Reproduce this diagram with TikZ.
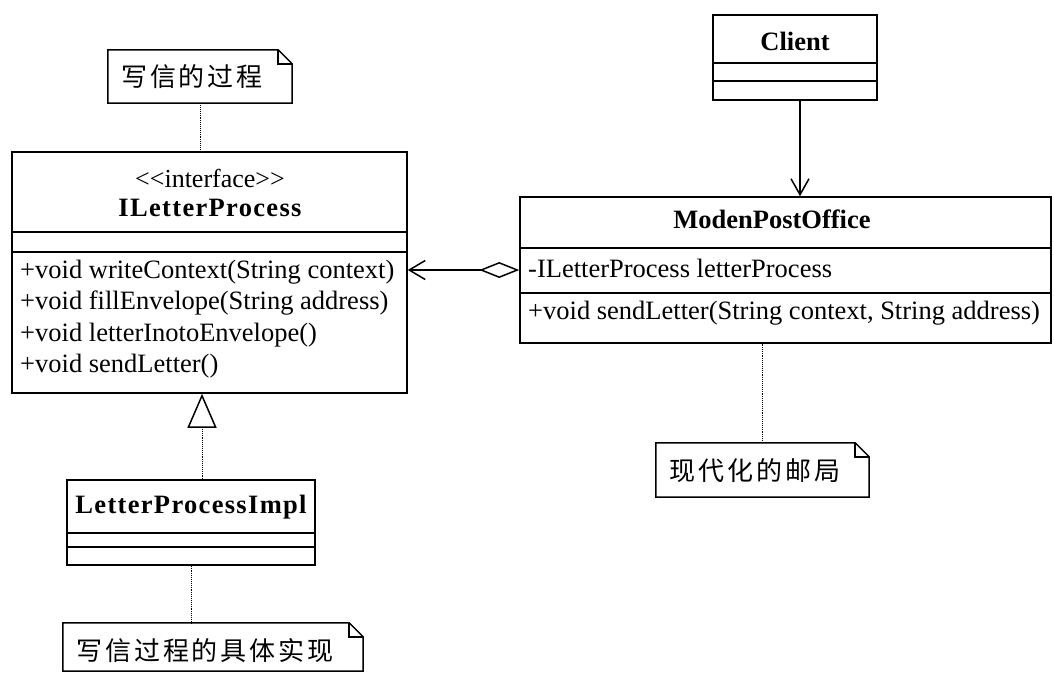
\documentclass[tikz,border=0pt]{standalone}
\usepackage{fontspec}
\setmainfont{Liberation Serif}
\newfontfamily\cjk[LetterSpace=11]{Noto Sans CJK SC}
\newfontfamily\spacedbf[LetterSpace=5]{Liberation Serif Bold}
\usetikzlibrary{fit,arrows.meta}
\tikzset{
  boxline/.style={line width=1.5pt, line join=miter},
  umlbox/.style={boxline, draw, inner sep=0pt},
  notearea/.style={inner sep=0pt},
  mtext/.style={font=\fontsize{26.5}{30}\selectfont, inner sep=0pt, anchor=west},
  ttext/.style={font=\fontsize{26.5}{30}\selectfont\bfseries, inner sep=0pt},
  stext/.style={font=\fontsize{26.5}{30}\selectfont\spacedbf, inner sep=0pt},
  ctext/.style={font=\fontsize{26}{30}\selectfont\cjk, inner sep=0pt},
  noteline/.style={line width=0.9pt, densely dotted},
  openhead/.style={-{Straight Barb[length=16pt,width=18pt,line width=1.5pt]}},
}
\newcommand\notefold[1]{%
  \draw[boxline] (#1.north west) -- ([xshift=-14pt]#1.north east) -- ([yshift=-14pt]#1.north east) -- (#1.south east) -- (#1.south west) -- cycle;
  \draw[boxline] ([xshift=-14pt]#1.north east) -- ([xshift=-14pt,yshift=-14pt]#1.north east) -- ([yshift=-14pt]#1.north east);}
\begin{document}
\begin{tikzpicture}[x=1pt,y=-1pt]
\useasboundingbox (0,0) rectangle (1054,673);

% notes
\node[notearea, fit={(108,50) (292,103)}] (n1) {};
\notefold{n1}
\node[ctext] (n1t) at (192,77) {写信的过程};

\node[notearea, fit={(656,443) (869,497)}] (n2) {};
\notefold{n2}
\node[ctext] (n2t) at (755,471) {现代化的邮局};

\node[notearea, fit={(63,623) (363,671)}] (n3) {};
\notefold{n3}
\node[ctext] (n3t) at (205,651) {写信过程的具体实现};

% ILetterProcess
\node[umlbox, fit={(12,152) (407,393)}] (ilp) {};
\draw[boxline] (ilp.west |- 0,232) -- (ilp.east |- 0,232);
\draw[boxline] (ilp.west |- 0,252) -- (ilp.east |- 0,252);
\node[font=\fontsize{26}{30}\selectfont, inner sep=0pt] (ilps) at (210,178) {<{}<interface>{}>};
\node[stext] (ilpt) at (210,208) {ILetterProcess};
\node[mtext] (m1) at (20,272) {+void writeContext(String context)};
\node[mtext] (m2) at (20,303) {+void fillEnvelope(String address)};
\node[mtext] (m3) at (20,335) {+void letterInotoEnvelope()};
\node[mtext] (m4) at (20,366) {+void sendLetter()};

% LetterProcessImpl
\node[umlbox, fit={(67,480) (315,565)}] (impl) {};
\draw[boxline] (impl.west |- 0,533) -- (impl.east |- 0,533);
\draw[boxline] (impl.west |- 0,547) -- (impl.east |- 0,547);
\node[stext] (implt) at (191,507) {LetterProcessImpl};

% Client
\node[umlbox, fit={(713,15) (877,100)}] (client) {};
\draw[boxline] (client.west |- 0,63) -- (client.east |- 0,63);
\draw[boxline] (client.west |- 0,81) -- (client.east |- 0,81);
\node[ttext] (clientt) at (795,41) {Client};

% ModenPostOffice
\node[umlbox, fit={(520,197) (1051,343)}] (mpo) {};
\draw[boxline] (mpo.west |- 0,248) -- (mpo.east |- 0,248);
\draw[boxline] (mpo.west |- 0,293) -- (mpo.east |- 0,293);
\node[ttext] (mpot) at (772,219) {ModenPostOffice};
\node[mtext] (a1) at (528,268) {-ILetterProcess letterProcess};
\node[mtext] (o1) at (528,313) {+void sendLetter(String context, String address)};

% connectors
\coordinate (gen) at (202,0);
\coordinate (agg) at (0,270);
\coordinate (dep) at (800,0);
\draw[noteline] (n1.south) -- (n1.south |- ilp.north);
\draw[noteline] (impl.south) -- (impl.south |- n3.north);
\draw[noteline] (n2.north) -- (n2.north |- mpo.south);
\draw[noteline, -{Triangle[open,length=34pt,width=29pt,line width=1.5pt]}] (impl.north -| gen) -- (ilp.south -| gen);
\draw[boxline, openhead] (client.south -| dep) -- (mpo.north -| dep);
\draw[boxline, {Diamond[open,length=40pt,width=16pt,line width=1.5pt]}-{Straight Barb[length=16pt,width=19pt,line width=1.5pt]}] (mpo.west |- agg) -- (ilp.east |- agg);
\end{tikzpicture}
\end{document}
